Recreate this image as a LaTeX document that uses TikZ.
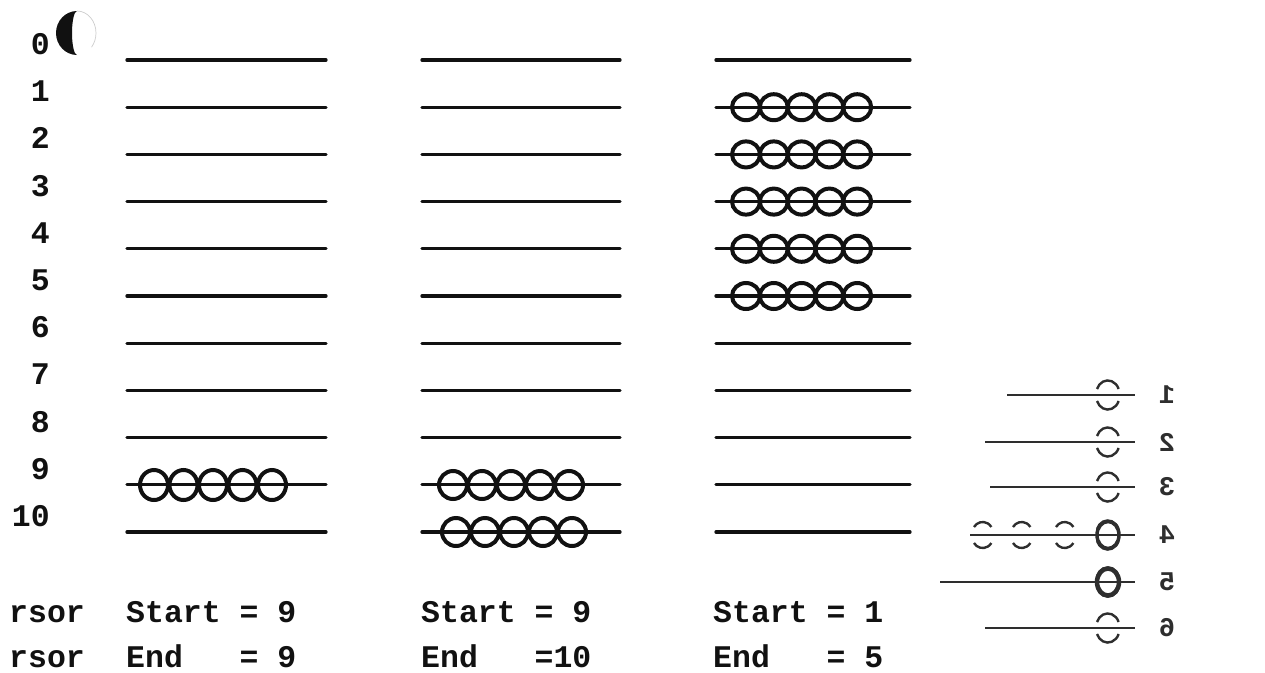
\documentclass[tikz,border=0pt]{standalone}
\usepackage{fontspec}
\setmonofont{Liberation Mono}
\usetikzlibrary{positioning,calc}
\definecolor{ink}{HTML}{111111}
\definecolor{ghost}{HTML}{2E2E2E}
\newcommand{\Mir}[1]{\scalebox{-1}[1]{#1}}

\begin{document}
\begin{tikzpicture}[x=1pt,y=-1pt,
  rail/.style={ink, line width=3.3pt, line cap=round},
  bead/.style={ink, line width=4pt},
  lbl/.style={font=\fontsize{31.5}{36}\selectfont\ttfamily\bfseries, text=ink, inner sep=0pt},
  back/.style={ghost, line width=2.4pt},
  backnum/.style={font=\fontsize{27}{30}\selectfont\ttfamily\bfseries, text=ghost, inner sep=0pt}]
  \useasboundingbox (0,0) rectangle (1265,672);
  % punch mark
  \fill[ink] (77,11) arc [start angle=-90, end angle=-270, x radius=21, y radius=22]
    arc [start angle=90, end angle=270, x radius=5, y radius=22] -- cycle;
  \draw[black!20, line width=0.7pt] (77,11) arc [start angle=-90, end angle=40, x radius=19, y radius=22];
  % rows
  \foreach \r in {0,...,10}{
    \pgfmathsetmacro{\yy}{60+47.2*\r}
    \node[lbl, anchor=base east] (row\r) at (50,\yy-5.5) {\r};
    \draw[rail] (127,\yy) -- (326,\yy);
    \draw[rail] (422,\yy) -- (620,\yy);
    \draw[rail] (716,\yy) -- (910,\yy);
  }
  % beads
  \foreach \i in {0,...,4}{
    \draw[bead] (154+29.5*\i,485) ellipse [x radius=14, y radius=15];
    \draw[bead] (453+29*\i,485) ellipse [x radius=14, y radius=14];
    \draw[bead] (456+29*\i,532) ellipse [x radius=14, y radius=14];
    \foreach \r in {1,...,5}
      \draw[bead] (746+27.8*\i,60+47.2*\r) ellipse [x radius=14, y radius=13];
  }
  % cursor values
  \node[lbl, anchor=base west] (cur1) at (9,622) {rsor};
  \node[lbl, anchor=base west] (cur2) at (9,667) {rsor};
  \node[lbl, anchor=base west] (start1) at (126,622) {Start~=~9};
  \node[lbl, anchor=base west] (end1) at (126,667) {End~~~=~9};
  \node[lbl, anchor=base west] (start2) at (421,622) {Start~=~9};
  \node[lbl, anchor=base west] (end2) at (421,667) {End~~~=10};
  \node[lbl, anchor=base west] (start3) at (713,622) {Start~=~1};
  \node[lbl, anchor=base west] (end3) at (713,667) {End~~~=~5};
  % show-through from the back of the sheet
  \foreach \r/\yy/\xa in {1/395/1007, 2/442/985, 3/487/990, 4/535/970, 5/582/940, 6/628/985}{
    \draw[back] (\xa,\yy) -- (1135,\yy);
    \draw[back] (1097,\yy-6) arc [start angle=-160, end angle=-20, x radius=11.5, y radius=13];
    \draw[back] (1097,\yy+6) arc [start angle=160, end angle=20, x radius=11.5, y radius=13];
    \node[backnum] (bk\r) at (1167,\yy) {\Mir{\r}};
  }
  \draw[ghost, line width=3.5pt] (1108,535) ellipse [x radius=11, y radius=13.5];
  \draw[ghost, line width=4.5pt] (1108,582) ellipse [x radius=11, y radius=13.5];
  \foreach \xx in {983,1022,1065}{
    \draw[back] (\xx-9,527) arc [start angle=-150, end angle=-30, x radius=10, y radius=10];
    \draw[back] (\xx-9,543) arc [start angle=150, end angle=30, x radius=10, y radius=10];
  }
\end{tikzpicture}
\end{document}
